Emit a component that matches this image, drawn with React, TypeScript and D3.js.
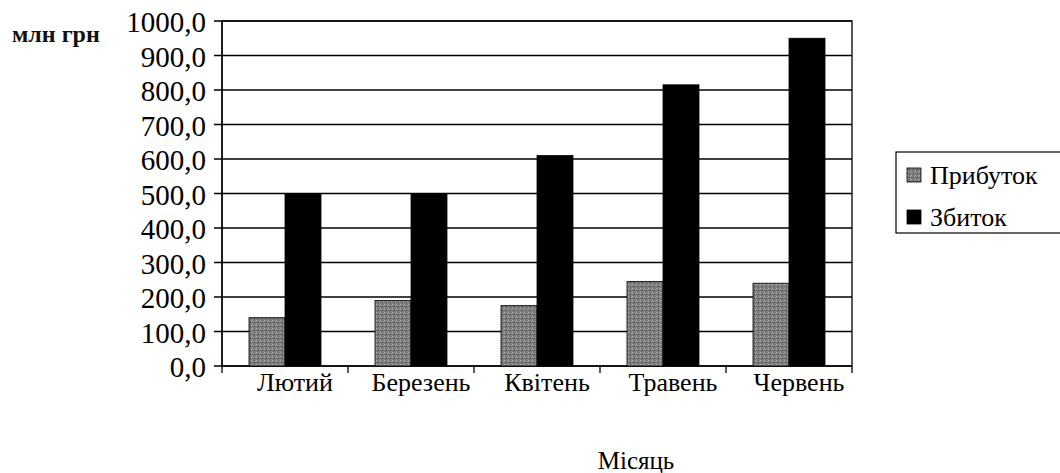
import React from 'react';
import * as d3 from 'd3';

const months = ['Лютий', 'Березень', 'Квітень', 'Травень', 'Червень'];
const profit = [140, 190, 175, 245, 240];
const loss = [500, 500, 610, 815, 950];
const seriesNames = ['Прибуток', 'Збиток'];
const yTicks = [0, 100, 200, 300, 400, 500, 600, 700, 800, 900, 1000];

const W = 1060;
const H = 473;
const FONT = "'Liberation Serif', 'Times New Roman', 'DejaVu Serif', serif";

const plot = { left: 222, right: 852, top: 21, bottom: 366 };

function fmt(v: number) {
    return d3.format('.1f')(v).replace('.', ',');
}

export default function App() {
    const x = d3
        .scaleBand()
        .domain(months)
        .range([plot.left, plot.right]);

    const y = d3
        .scaleLinear()
        .domain([0, 1000])
        .range([plot.bottom, plot.top]);

    // excel style: gap width 150%
    const barW = x.bandwidth() / 3.5;
    const offset = barW * 0.75;

    const fills = ['url(#grayDots)', '#000'];
    const data = [profit, loss];

    return (
        <svg
            width={W}
            height={H}
            style={{ position: 'absolute', left: 0, top: 0, background: '#fff', fontFamily: FONT }}
        >
            <defs>
                <pattern id="grayDots" width={4} height={4} patternUnits="userSpaceOnUse">
                    <rect width={4} height={4} fill="#7c7c7c" />
                    <rect x={0} y={0} width={1} height={1} fill="#b0b0b0" />
                    <rect x={2} y={2} width={1} height={1} fill="#4a4a4a" />
                    <rect x={3} y={1} width={1} height={1} fill="#a0a0a0" />
                </pattern>
            </defs>

            <text x={12} y={42} fontSize={24} fontWeight="bold" fill="#111">млн грн</text>

            {/* plot frame + grid */}
            <rect
                x={plot.left}
                y={plot.top}
                width={plot.right - plot.left}
                height={plot.bottom - plot.top}
                fill="none"
                stroke="#000"
                strokeWidth={1.3}
            />
            {yTicks.map((t) => (
                <g key={t}>
                    <line x1={plot.left - 8} x2={plot.right} y1={y(t)} y2={y(t)} stroke="#000" strokeWidth={1.3} />
                    <text
                        x={plot.left - 16}
                        y={y(t)}
                        dy="0.38em"
                        textAnchor="end"
                        fontSize={29}
                        fill="#000"
                    >
                        {fmt(t)}
                    </text>
                </g>
            ))}

            {/* bars */}
            {months.map((m, i) => (
                <g key={m}>
                    {data.map((s, j) => (
                        <rect
                            key={j}
                            x={(x(m) as number) + offset + j * barW}
                            y={y(s[i])}
                            width={barW}
                            height={y(0) - y(s[i])}
                            fill={fills[j]}
                            stroke="#000"
                            strokeWidth={0.8}
                        />
                    ))}
                </g>
            ))}

            {/* x axis */}
            <line x1={plot.left} x2={plot.left} y1={plot.top} y2={plot.bottom + 7} stroke="#000" strokeWidth={1.3} />
            {months.map((m) => (
                <line
                    key={m}
                    x1={(x(m) as number) + x.bandwidth()}
                    x2={(x(m) as number) + x.bandwidth()}
                    y1={plot.bottom}
                    y2={plot.bottom + 7}
                    stroke="#000"
                    strokeWidth={1.3}
                />
            ))}
            {months.map((m) => (
                <text
                    key={m}
                    x={(x(m) as number) + x.bandwidth() / 2 + 10}
                    y={plot.bottom + 25}
                    textAnchor="middle"
                    fontSize={26}
                    fill="#000"
                >
                    {m}
                </text>
            ))}

            <text x={636} y={469} textAnchor="middle" fontSize={25} fill="#000">Місяць</text>

            {/* legend */}
            <rect x={896} y={152} width={170} height={81} fill="#fff" stroke="#000" strokeWidth={1.2} />
            {seriesNames.map((n, j) => (
                <g key={n} transform={`translate(907, ${175 + j * 42})`}>
                    <rect x={0} y={-7} width={14} height={14} fill={fills[j]} stroke="#000" strokeWidth={0.8} />
                    <text x={23} y={0} dy="0.35em" fontSize={26} fill="#000">{n}</text>
                </g>
            ))}
        </svg>
    );
}
